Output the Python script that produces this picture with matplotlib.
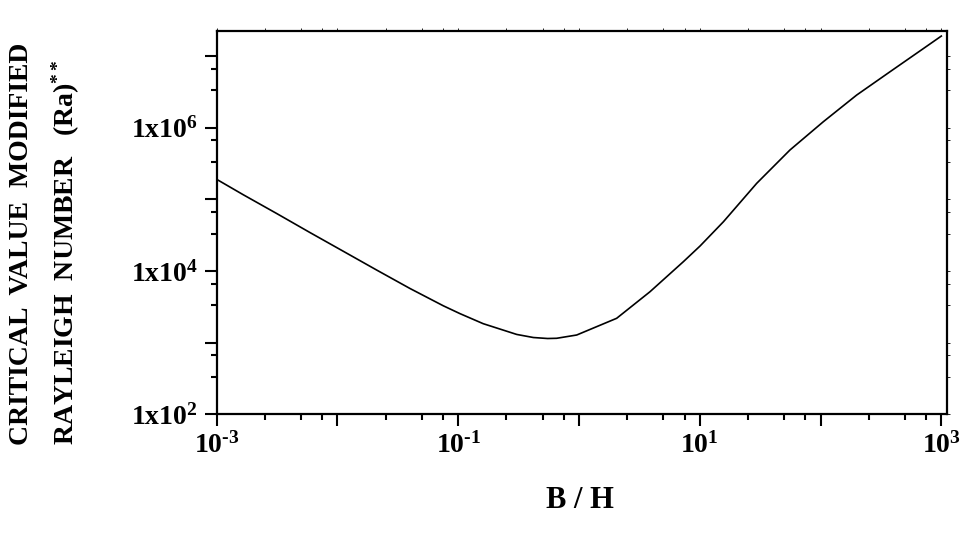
import numpy as np
import matplotlib
matplotlib.use('Agg')
import matplotlib.pyplot as plt
from matplotlib.ticker import FixedLocator, FuncFormatter, NullFormatter

plt.rcParams['font.family'] = 'Liberation Serif'
plt.rcParams['font.weight'] = 'bold'
plt.rcParams['mathtext.fontset'] = 'custom'
plt.rcParams['mathtext.rm'] = 'Liberation Serif:bold'
plt.rcParams['mathtext.it'] = 'Liberation Serif:bold'
plt.rcParams['mathtext.bf'] = 'Liberation Serif:bold'

# critical modified Rayleigh number vs aspect ratio B/H
bh = [0.001, 0.00166, 0.00314, 0.00593, 0.0112, 0.0211, 0.0399, 0.0752,
      0.1035, 0.161, 0.305, 0.419, 0.55, 0.653, 0.957, 2.05, 3.87, 7.31,
      10.05, 15.7, 29.6, 55.8, 105.4, 199, 376, 710, 1000]
ra = [1.905e5, 1.161e5, 6.35e4, 3.44e4, 1.884e4, 1.033e4, 5700, 3273,
      2541, 1841, 1303, 1180, 1143, 1151, 1279, 2188, 5140, 1.349e4,
      2.234e4, 4.875e4, 1.675e5, 4.89e5, 1.213e6, 2.858e6, 6.05e6, 1.274e7, 1.905e7]

x_major = [1e-3, 1e-2, 1e-1, 1e0, 1e1, 1e2, 1e3]
x_labeled = [1e-3, 1e-1, 1e1, 1e3]
y_major = [1e2, 1e3, 1e4, 1e5, 1e6, 1e7]
y_labeled = [1e2, 1e4, 1e6]

fig = plt.figure(figsize=(9.6, 5.45), dpi=100)
ax = fig.add_axes([0.2257, 0.2398, 0.7608, 0.7033])

ax.plot(bh, ra, color='black', lw=1.2)
ax.set_xscale('log')
ax.set_yscale('log')
ax.set_xlim(1e-3, 1.115e3)
ax.set_ylim(1e2, 2.24e7)

ax.xaxis.set_major_locator(FixedLocator(x_major))
ax.xaxis.set_minor_locator(FixedLocator([k * 10.0**n for n in range(-4, 3) for k in (2.5, 5, 7.5)]))
ax.yaxis.set_major_locator(FixedLocator(y_major))
ax.yaxis.set_minor_locator(FixedLocator([k * 10.0**(n + 1) / 3 for n in range(2, 8) for k in (1, 2)]))


def xfmt(v, pos):
    if any(np.isclose(v, t) for t in x_labeled):
        e = round(np.log10(v))
        return '10$^{%s}$' % (('\u2010%d' % -e) if e < 0 else '%d' % e)
    return ''


def yfmt(v, pos):
    if any(np.isclose(v, t) for t in y_labeled):
        return r'1x10$^{%d}$' % round(np.log10(v))
    return ''


ax.xaxis.set_major_formatter(FuncFormatter(xfmt))
ax.yaxis.set_major_formatter(FuncFormatter(yfmt))
ax.xaxis.set_minor_formatter(NullFormatter())
ax.yaxis.set_minor_formatter(NullFormatter())

for s in ax.spines.values():
    s.set_linewidth(1.6)
ax.tick_params(which='major', direction='out', length=8.5, width=1.5, labelsize=20, pad=4)
ax.tick_params(which='minor', direction='out', length=4.3, width=1.5)
ax.tick_params(axis='y', which='major', pad=5)
ax.tick_params(which='both', top=True, right=True, labeltop=False, labelright=False)
# faint mirror ticks on top and right
for tl in (ax.xaxis.get_majorticklines()[1::2] + ax.xaxis.get_minorticklines()[1::2]
           + ax.yaxis.get_majorticklines()[1::2] + ax.yaxis.get_minorticklines()[1::2]):
    tl.set_markersize(2)
    tl.set_markeredgewidth(0.6)
    tl.set_color('0.6')

fig.text(580 / 960, 1 - 500 / 545, 'B / H', ha='center', va='center', fontsize=22, fontweight='bold')
fig.text(22 / 960, 1 - 445 / 545, 'CRITICAL  VALUE  MODIFIED', rotation=90,
         ha='center', va='bottom', fontsize=20, fontweight='bold')
fig.text(66 / 960, 1 - 445 / 545, r'RAYLEIGH  NUMBER   (Ra)$^{**}$', rotation=90,
         ha='center', va='bottom', fontsize=20, fontweight='bold')

fig.savefig('out.png', dpi=100)
